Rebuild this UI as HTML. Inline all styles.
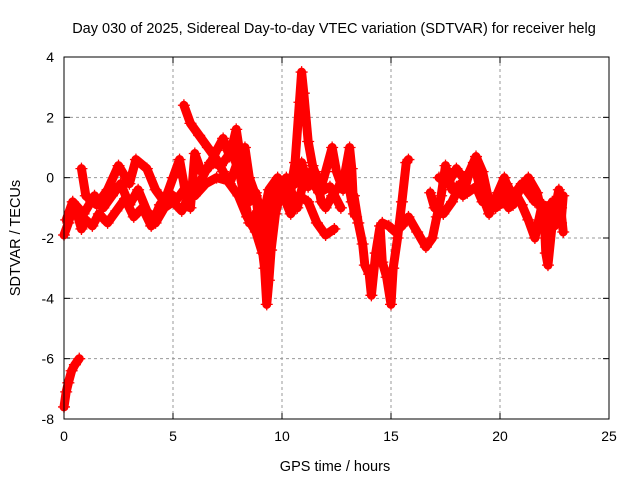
<!DOCTYPE html>
<html><head><meta charset="utf-8"><style>
body{margin:0;background:#fff}
svg{display:block;font-family:"Liberation Sans",sans-serif}
</style></head><body>
<svg id="chart" width="640" height="480">
<text x="334" y="33" text-anchor="middle" font-size="14.5">Day 030 of 2025, Sidereal Day-to-day VTEC variation (SDTVAR) for receiver helg</text>
<text x="335" y="471" text-anchor="middle" font-size="14.5">GPS time / hours</text>
<text transform="translate(20,238) rotate(-90)" text-anchor="middle" font-size="14.5">SDTVAR / TECUs</text>
<g id="grid"></g>
<g id="ticks"></g>
<g id="marks"></g>
<rect x="64" y="57" width="545" height="362" fill="none" stroke="#000" stroke-width="1"/>
</svg>
<script>
const xTicks=[0,5,10,15,20,25];
const yTicks=[4,2,0,-2,-4,-6,-8];
const t1=[[0,-1.9],[0.2,-1.5],[0.4,-1.0],[0.6,-1.2],[0.8,-1.7],[1.0,-1.4],[1.3,-1.6],[1.6,-1.2],[2.0,-1.5],[2.4,-1.1],[2.8,-0.7],[3.2,-1.3],[3.6,-1.0],[4.0,-1.6],[4.4,-0.9],[4.8,-0.5],[5.2,-0.7],[5.6,-0.3],[6.0,-0.6],[6.5,-0.2],[7.0,0.0],[7.5,-0.1],[8.0,-0.6],[8.4,-1.3],[8.8,-1.8],[9.1,-2.5],[9.3,-1.6],[9.6,-1.0],[10.0,-0.5],[10.4,-1.2],[10.8,-0.6],[11.2,-0.8],[11.6,-1.5],[12.0,-1.9],[12.4,-1.7]];
const t2=[[0.8,0.3],[1.0,-0.6],[1.5,-0.9],[2.0,-0.4],[2.5,0.4],[3.0,-0.2],[3.3,0.6],[3.8,0.3],[4.2,-0.4],[4.6,-0.8],[5.0,0.0],[5.3,0.6],[5.6,-0.6],[5.8,-1.0],[6.0,0.8],[6.3,0.2],[6.6,0.3],[7.0,0.9],[7.3,1.3],[7.6,0.7],[7.9,1.6],[8.2,0.2],[8.5,-0.8],[8.8,-0.5],[9.1,-1.4],[9.4,-0.4],[9.8,0.0],[10.2,-0.4],[10.6,-0.2],[10.9,0.5],[11.2,-0.3],[11.5,0.2],[11.8,-0.3],[12.0,0.2],[12.3,1.0],[12.5,0.2],[12.8,-0.4],[13.0,0.0],[13.2,-0.8],[13.4,-1.3]];
const t3=[[5.5,2.4],[5.8,1.8],[6.2,1.4],[6.6,1.0],[7.0,0.6],[7.3,0.2],[7.6,-0.2],[8.0,0.6],[8.3,1.0],[8.5,0.0],[8.8,-0.6],[9.0,-1.8],[9.2,-3.0],[9.3,-4.2],[9.4,-3.4],[9.5,-2.4],[9.7,-1.2],[10.0,-0.3]];
const t4=[[10.3,-0.8],[10.6,0.5],[10.8,2.5],[10.9,3.5],[11.0,2.8],[11.2,1.2],[11.4,0.4],[11.6,0.0],[11.8,-0.8],[12.0,-1.0],[12.3,-0.6],[12.6,-0.3],[12.9,0.2],[13.1,1.0],[13.2,0.3],[13.3,-1.2]];
const t5=[[0,-7.6],[0.1,-7.1],[0.2,-6.8],[0.35,-6.4],[0.5,-6.2],[0.7,-6.0]];
const t6=[[13.3,-0.6],[13.5,-1.5],[13.7,-2.2],[13.8,-2.9],[14.0,-3.2],[14.1,-3.9],[14.3,-2.5],[14.5,-1.6],[14.6,-2.8],[14.8,-3.3],[15.0,-4.2],[15.1,-3.0],[15.3,-2.0],[15.5,-0.8],[15.7,0.5],[15.8,0.6]];
const t7=[[14.6,-1.5],[14.9,-1.6],[15.2,-1.8],[15.5,-1.6],[15.8,-1.3],[16.2,-1.8],[16.6,-2.3],[16.9,-2.0],[17.1,-1.3],[17.3,-0.6],[17.5,0.4],[17.8,-0.4],[18.0,-0.3],[18.3,-0.6],[18.6,0.2],[18.9,0.7],[19.2,0.2],[19.5,-0.8],[19.8,-1.0],[20.1,-0.6],[20.4,-1.0],[20.7,-0.5],[21.0,-0.9],[21.3,-1.4],[21.6,-2.0],[21.9,-1.0],[22.2,-1.2],[22.5,-1.6],[22.8,-1.0]];
const t8=[[16.8,-0.5],[17.0,-1.0],[17.4,-1.2],[17.8,-0.8],[18.2,-0.2],[18.5,-0.5],[18.9,-0.3],[19.2,-0.8],[19.6,-0.7],[20.0,-0.9],[20.3,-0.2],[20.6,-0.6],[21.0,-0.2],[21.3,-0.5],[21.6,-0.8],[22.0,-0.9],[22.1,-2.5],[22.2,-2.9],[22.4,-1.5],[22.7,-0.4],[22.9,-1.8]];
const t9=[[0.1,-1.4],[0.4,-0.8],[0.9,-1.2],[1.4,-0.6],[1.8,-1.0],[2.2,-0.6],[2.6,-0.2],[3.0,-0.9],[3.4,-0.4],[3.8,-1.1],[4.2,-1.5],[4.6,-1.0],[5.0,-0.8],[5.4,-1.1],[5.8,-0.5],[6.2,-0.2],[6.7,0.5],[7.2,0.4],[7.7,0.9],[8.1,0.0],[8.5,-1.5],[8.9,-1.1],[9.6,-0.6],[10.2,0.0],[10.7,-1.0],[11.1,0.2],[11.7,-0.5],[12.2,-0.3],[12.7,-1.0]];
const t10=[[17.2,0.0],[17.6,-0.2],[18.0,0.3],[18.4,-0.1],[18.8,0.5],[19.1,-0.4],[19.5,-1.2],[19.9,-0.5],[20.2,0.0],[20.6,-0.9],[20.9,-0.4],[21.3,0.0],[21.7,-0.5],[22.0,-1.4],[22.4,-0.8],[22.8,-1.5],[22.9,-0.6]];
const traces=[t1,t2,t3,t4,t5,t6,t7,t8,t9,t10];
const NS='http://www.w3.org/2000/svg';
const X=v=>64+v*545/25, Y=v=>57+(4-v)*362/12;
function mk(tag,attrs,parent){const e=document.createElementNS(NS,tag);for(const k in attrs)e.setAttribute(k,attrs[k]);parent.appendChild(e);return e;}
const grid=document.getElementById('grid'),ticks=document.getElementById('ticks'),marks=document.getElementById('marks');
xTicks.forEach(v=>{
 if(v>0&&v<25){const g=mk('line',{x1:X(v),x2:X(v),y1:57,y2:419,stroke:'#999','stroke-dasharray':'3,3'},grid);
 
 }
 mk('line',{x1:X(v),x2:X(v),y1:419,y2:413,stroke:'#000'},ticks);
 mk('line',{x1:X(v),x2:X(v),y1:57,y2:63,stroke:'#000'},ticks);
 const t=mk('text',{x:X(v),y:441,'text-anchor':'middle','font-size':14},ticks);t.textContent=v;
 
 
});
yTicks.forEach(v=>{
 if(v<4&&v>-8){const g=mk('line',{x1:64,x2:609,y1:Y(v),y2:Y(v),stroke:'#999','stroke-dasharray':'3,3'},grid);
 
 }
 mk('line',{x1:64,x2:70,y1:Y(v),y2:Y(v),stroke:'#000'},ticks);
 mk('line',{x1:609,x2:603,y1:Y(v),y2:Y(v),stroke:'#000'},ticks);
 const t=mk('text',{x:54,y:Y(v)+5,'text-anchor':'end','font-size':14},ticks);t.textContent=v;
 
 
});
traces.forEach((tr,i)=>{
 const pl=mk('polyline',{points:tr.map(p=>X(p[0])+','+Y(p[1])).join(' '),fill:'none',stroke:'#f00','stroke-width':9,'stroke-linejoin':'round','stroke-linecap':'round'},marks);
 
 
 tr.forEach(p=>{
  const x=X(p[0]),y=Y(p[1]);
  const m=mk('path',{d:`M${x-6},${y}H${x+6}M${x},${y-6}V${y+6}`,stroke:'#f00','stroke-width':1.3},marks);
  
  
 });
});
</script>
</body></html>
